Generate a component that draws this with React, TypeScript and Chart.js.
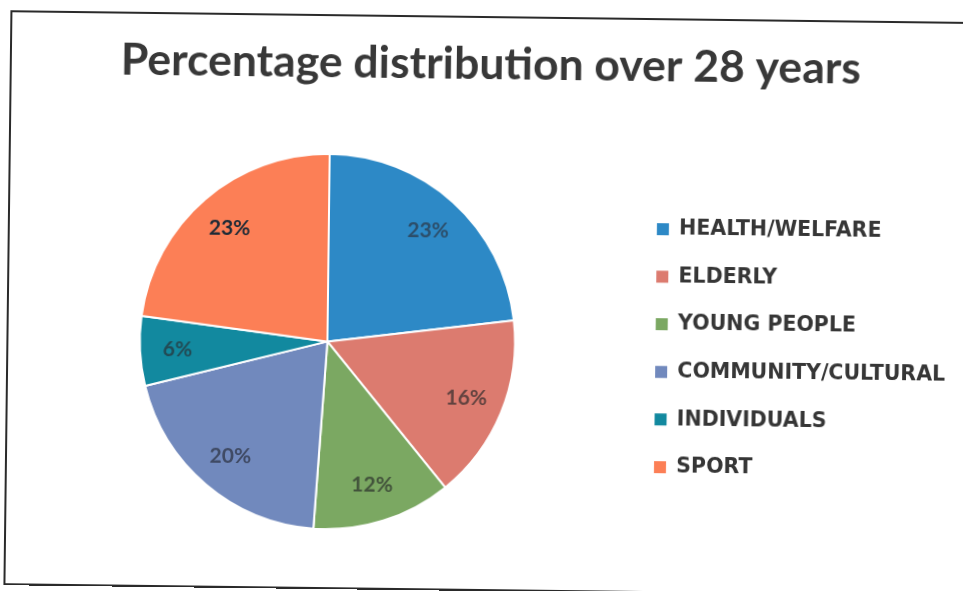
import React, { useEffect, useRef } from "react";
import { Chart, registerables } from "chart.js";

Chart.register(...registerables);

const titleText = "Percentage distribution over 28 years";
const categories = [
  "HEALTH/WELFARE",
  "ELDERLY",
  "YOUNG PEOPLE",
  "COMMUNITY/CULTURAL",
  "INDIVIDUALS",
  "SPORT",
];
const shares = [23, 16, 12, 20, 6, 23];
const sliceColors = ["#2d89c6", "#dc7b6f", "#7ba862", "#7189bd", "#12899f", "#fc7f56"];
const labelColors = [
  "rgba(45,55,70,0.72)",
  "rgba(50,45,45,0.72)",
  "rgba(45,50,45,0.72)",
  "rgba(45,50,65,0.72)",
  "rgba(40,50,55,0.72)",
  "#1d2a36",
];

const sliceLabelPlugin = {
  id: "sliceLabels",
  afterDatasetsDraw(chart: any) {
    const ctx = chart.ctx;
    const meta = chart.getDatasetMeta(0);
    const values = chart.data.datasets[0].data as number[];
    meta.data.forEach((arc: any, i: number) => {
      const p = arc.getProps(["x", "y", "startAngle", "endAngle", "outerRadius"], true);
      const mid = (p.startAngle + p.endAngle) / 2;
      const r = p.outerRadius * 0.8;
      const tx = p.x + Math.cos(mid) * r;
      const ty = p.y + Math.sin(mid) * r;
      ctx.save();
      ctx.font = "bold 21px Lato";
      ctx.fillStyle = labelColors[i];
      ctx.textAlign = "center";
      ctx.textBaseline = "middle";
      ctx.fillText(values[i] + "%", tx, ty);
      ctx.restore();
    });
  },
};

export default function App() {
  const canvasRef = useRef<HTMLCanvasElement | null>(null);

  useEffect(() => {
    if (!canvasRef.current) return;
    const defaultGen = (Chart as any).overrides.pie.plugins.legend.labels.generateLabels;
    const chart = new Chart(canvasRef.current, {
      type: "pie",
      data: {
        labels: categories,
        datasets: [
          {
            data: shares,
            backgroundColor: sliceColors,
            borderColor: "#ffffff",
            borderWidth: 2,
          },
        ],
      },
      options: {
        responsive: false,
        animation: false,
        layout: { padding: { left: 27, right: 14, top: 0, bottom: 59 } },
        plugins: {
          title: {
            display: true,
            text: titleText,
            color: "#383838",
            font: { family: "Lato", size: 44.5, weight: "bold" },
            padding: { top: 38, bottom: 63.4 },
          },
          legend: {
            position: "right",
            fullSize: false,
            maxWidth: 320,
            title: {
              display: true,
              text: " ",
              font: { size: 5, lineHeight: 1 },
              padding: 0,
            },
            labels: {
              boxWidth: 12,
              boxHeight: 12,
              padding: 27.1,
              color: "#363636",
              font: { family: "DejaVu Sans", size: 20.5, weight: "bold" },
              generateLabels: (c: any) =>
                defaultGen(c).map((it: any) => ({ ...it, lineWidth: 0, strokeStyle: it.fillStyle })),
            },
          },
          tooltip: { enabled: false },
        },
      },
      plugins: [sliceLabelPlugin],
    } as any);
    return () => chart.destroy();
  }, []);

  return (
    <div
      style={{
        position: "fixed",
        left: 0,
        top: 0,
        width: 963,
        height: 591,
        background: "#ffffff",
        transform: "rotate(0.7deg)",
        transformOrigin: "481px 295px",
      }}
    >
      <div
        style={{
          position: "absolute",
          left: 7,
          top: 16,
          width: 1000,
          height: 571,
          border: "2px solid #2a2a2a",
        }}
      />
      <canvas
        ref={canvasRef}
        width={963}
        height={591}
        style={{ position: "absolute", left: 0, top: 0, width: 963, height: 591 }}
      />
    </div>
  );
}
